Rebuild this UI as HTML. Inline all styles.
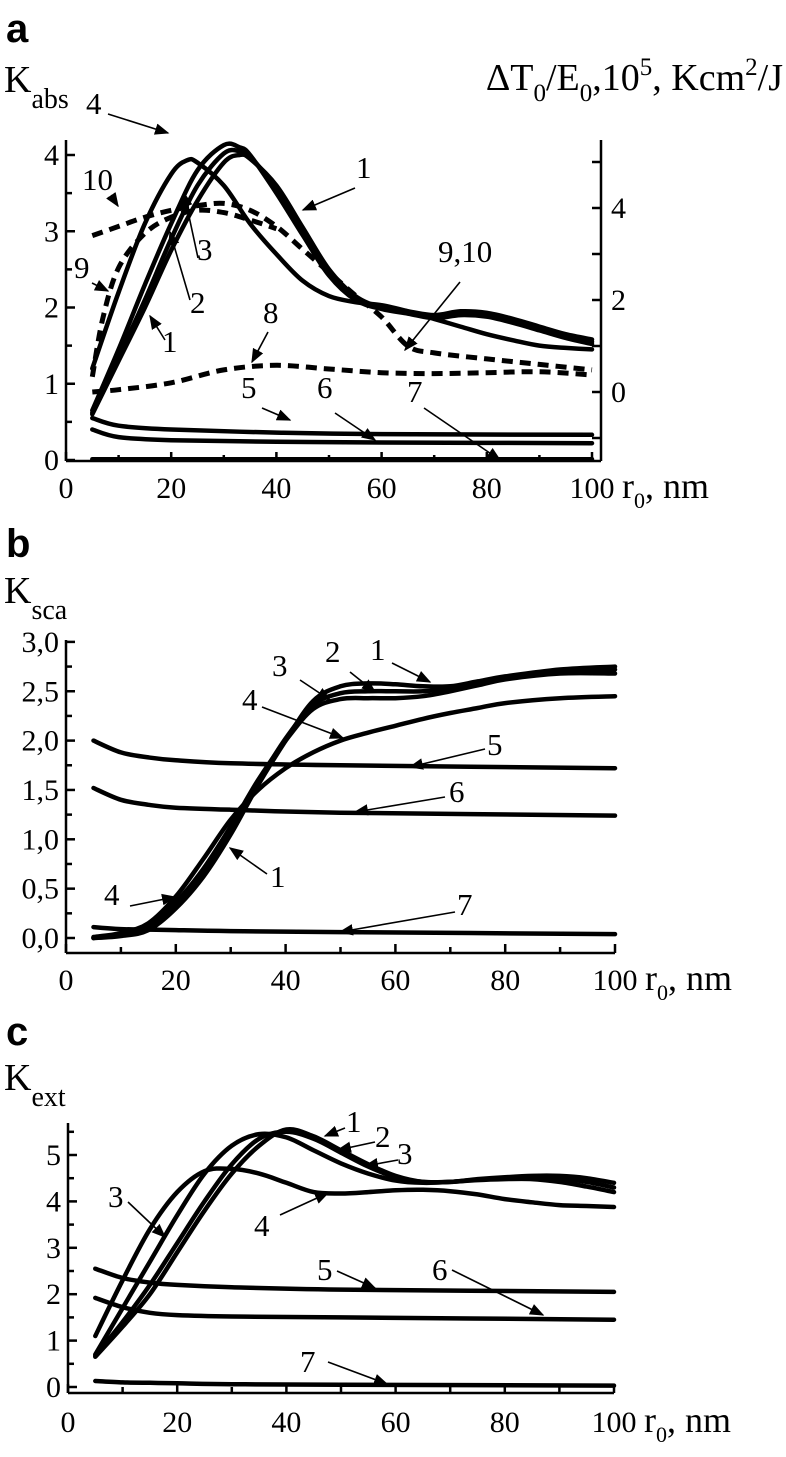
<!DOCTYPE html>
<html><head><meta charset="utf-8">
<style>
html,body{margin:0;padding:0;background:#fff;}
svg{display:block;font-family:"Liberation Serif",serif;}
.pl{font-family:"Liberation Sans",sans-serif;font-weight:bold;font-size:40px;}
.tk{font-size:30px;}
.ax{stroke:#000;stroke-width:2.5;fill:none;}
.cv{stroke:#000;stroke-width:4.5;fill:none;stroke-linecap:round;stroke-linejoin:round;}
.ds{stroke:#000;stroke-width:5;fill:none;stroke-dasharray:11 7;}
.ar{stroke:#000;stroke-width:1.6;fill:none;}
.lb{font-size:31px;}
</style></head>
<body>
<svg id="fig" width="786" height="1457" viewBox="0 0 786 1457">
<defs><marker id="ah" viewBox="0 0 10 10" refX="9" refY="5" markerWidth="9" markerHeight="9" orient="auto"><path d="M0,1 L10,5 L0,9 z" fill="#000"/></marker></defs>
<g id="gA"></g>
<g id="gB"></g>
<g id="gC"></g>
</svg>
<script>
// ---- data: panel a (Kabs, left axis) ----
const aX=[5,10,15,20,25,30,33,35,40,45,50,55,60,65,70,75,80,85,90,95,100];
const a1=[0.6,1.3,2.0,2.75,3.4,3.9,4.0,3.95,3.6,3.05,2.5,2.15,2.0,1.95,1.9,1.95,1.93,1.85,1.75,1.65,1.58];
const a2=[0.62,1.35,2.1,2.9,3.6,4.02,4.05,3.98,3.55,3.0,2.45,2.12,2.0,1.93,1.88,1.92,1.9,1.82,1.72,1.62,1.55];
const a3=[0.65,1.45,2.3,3.1,3.8,4.13,4.1,4.0,3.5,2.95,2.42,2.1,1.98,1.92,1.86,1.9,1.88,1.8,1.7,1.6,1.52];
const a4X=[5,10,15,20,23,25,30,35,40,45,50,55,60,65,70,75,80,85,90,95,100];
const a4=[1.2,2.2,3.1,3.75,3.93,3.9,3.6,3.1,2.7,2.35,2.15,2.07,2.03,1.95,1.85,1.75,1.65,1.57,1.5,1.47,1.45];
const aFlatX=[5,10,20,40,60,100];
const a5=[0.55,0.45,0.4,0.36,0.34,0.33];
const a6=[0.4,0.3,0.26,0.24,0.23,0.22];
const a7=[0.01,0.01,0.01,0.01,0.01,0.01];
// dashed curves (right axis, ΔT0/E0)
const a10X=[5,10,15,20,25,30,35,40,45,50,55,60,65,70,80,90,100];
const a10=[3.4,3.6,3.8,3.95,4.05,4.1,3.95,3.6,3.1,2.6,2.1,1.63,1.0,0.85,0.72,0.6,0.48];
const a9X=[5,7,10,15,20,25,30,35,40];
const a9=[0.33,1.6,2.7,3.45,3.8,3.95,3.9,3.74,3.55];
const a8X=[5,10,20,30,40,50,60,70,80,90,100];
const a8=[0.0,0.05,0.2,0.48,0.58,0.5,0.42,0.4,0.42,0.44,0.37];
// ---- panel b (Ksca) ----
const bX=[5,10,15,20,25,30,35,40,45,50,55,60,65,70,75,80,90,100];
const b1=[0,0.02,0.08,0.3,0.62,1.05,1.55,2.0,2.4,2.55,2.58,2.57,2.55,2.55,2.6,2.65,2.72,2.75];
const b2=[0,0.03,0.1,0.33,0.66,1.1,1.58,2.02,2.36,2.48,2.5,2.5,2.5,2.53,2.58,2.63,2.7,2.72];
const b3=[0,0.04,0.12,0.36,0.7,1.13,1.6,2.0,2.32,2.42,2.43,2.43,2.45,2.5,2.56,2.62,2.68,2.68];
const b4=[0.01,0.05,0.15,0.42,0.8,1.2,1.5,1.72,1.88,2.0,2.08,2.15,2.22,2.28,2.33,2.38,2.43,2.45];
const bFlatX=[5,10,15,20,30,50,100];
const b5=[2.0,1.88,1.83,1.8,1.77,1.75,1.72];
const b6=[1.52,1.4,1.35,1.32,1.3,1.27,1.24];
const b7=[0.11,0.09,0.085,0.08,0.07,0.06,0.04];
// ---- panel c (Kext) ----
const cX=[5,10,15,20,25,30,35,40,45,50,55,60,65,70,75,80,85,90,95,100];
const c1=[0.65,1.3,2.0,2.9,3.8,4.6,5.2,5.55,5.4,5.1,4.8,4.55,4.42,4.42,4.48,4.52,4.55,4.55,4.5,4.4];
const c2=[0.67,1.4,2.2,3.1,4.0,4.8,5.35,5.5,5.35,5.05,4.75,4.52,4.42,4.42,4.47,4.5,4.52,4.5,4.42,4.3];
const c3=[0.7,1.7,2.7,3.7,4.6,5.2,5.45,5.38,5.1,4.82,4.6,4.45,4.4,4.42,4.46,4.48,4.48,4.42,4.32,4.2];
const c4=[1.1,2.3,3.4,4.2,4.65,4.7,4.6,4.4,4.2,4.17,4.2,4.24,4.25,4.22,4.15,4.05,3.98,3.92,3.9,3.88];
const cFlatX=[5,10,15,20,30,50,100];
const c5=[2.55,2.35,2.25,2.2,2.15,2.1,2.05];
const c6=[1.92,1.72,1.6,1.55,1.52,1.5,1.45];
const c7=[0.13,0.1,0.09,0.08,0.06,0.05,0.03];

const NS="http://www.w3.org/2000/svg";
function mk(parent,tag,attrs,text){const e=document.createElementNS(NS,tag);for(const k in attrs)e.setAttribute(k,attrs[k]);if(text!==undefined)e.textContent=text;parent.appendChild(e);return e;}
function smooth(pts){let d="M"+pts[0][0].toFixed(1)+","+pts[0][1].toFixed(1);
 for(let i=0;i<pts.length-1;i++){const p0=pts[Math.max(i-1,0)],p1=pts[i],p2=pts[i+1],p3=pts[Math.min(i+2,pts.length-1)];
 const c1x=p1[0]+(p2[0]-p0[0])/6,c1y=p1[1]+(p2[1]-p0[1])/6,c2x=p2[0]-(p3[0]-p1[0])/6,c2y=p2[1]-(p3[1]-p1[1])/6;
 d+=" C"+c1x.toFixed(1)+","+c1y.toFixed(1)+" "+c2x.toFixed(1)+","+c2y.toFixed(1)+" "+p2[0].toFixed(1)+","+p2[1].toFixed(1);}
 return d;}
function curve(g,xs,ys,fx,fy,cls,name){const p=mk(g,"path",{d:smooth(xs.map((x,i)=>[fx(x),fy(ys[i])])),class:cls});
 
 }
function txt(g,x,y,s,cls,name,anchor){const t=mk(g,"text",{x:x,y:y,class:cls||"lb","text-anchor":anchor||"start"},s);
 
 return t;}
function arrow(g,x1,y1,x2,y2,name){const l=mk(g,"line",{x1:x1,y1:y1,x2:x2,y2:y2,class:"ar","marker-end":"url(#ah)"});
 
 }
function xaxis(g,fx,y0,x0,x1,ticklabY,name){
 const l=mk(g,"line",{x1:x0,y1:y0,x2:x1,y2:y0,class:"ax"});
 
 
 for(let v=0;v<=100;v+=10){const x=fx(v);mk(g,"line",{x1:x,y1:y0,x2:x,y2:y0-(v%20==0?9:6),class:"ax"});
  if(v%20==0){txt(g,x,ticklabY,String(v),"tk","x-tick-label","middle");}}
 const t=mk(g,"text",{x:fx(100)+30,y:ticklabY,"font-size":"36"});
 
 
 t.innerHTML='r<tspan dy="10" font-size="22">0</tspan><tspan dy="-10">, nm</tspan>';}
function yaxis(g,fy,x0,ytop,ybot,vmin,vmax,step,minor,labels,name,right){
 const l=mk(g,"line",{x1:x0,y1:ytop,x2:x0,y2:ybot,class:"ax"});
 
 
 const dir=right?-1:1;
 for(let v=vmin;v<=vmax+1e-9;v+=minor){const y=fy(v);const maj=Math.abs(v/step-Math.round(v/step))<1e-6;
  mk(g,"line",{x1:x0,y1:y,x2:x0+dir*(maj?9:6),y2:y,class:"ax"});}
 labels.forEach(([v,s])=>{txt(g,right?x0+10:x0-7,fy(v)+10,s,"tk","y-tick-label",right?"start":"end");});}
function sub(g,x,y,main,subs,name){const t=mk(g,"text",{x:x,y:y,"font-size":"38"});
 
 
 t.innerHTML=main+'<tspan dy="16" font-size="28">'+subs+'</tspan>';}

// ===== Panel A =====
(function(){const g=document.getElementById("gA");
 const fx=v=>66+5.26*v, fy=v=>460-76.25*v, fr=v=>392-46*v;
 txt(g,6,42,"a","pl","panel-a-letter");
 sub(g,4,92,"K","abs","y-axis-title-left");
 const t=mk(g,"text",{x:783,y:90,"font-size":"38","text-anchor":"end"});
 
 
 t.innerHTML='ΔT<tspan dy="11" font-size="25">0</tspan><tspan dy="-11">/E</tspan><tspan dy="11" font-size="25">0</tspan><tspan dy="-11">,10</tspan><tspan dy="-15" font-size="25">5</tspan><tspan dy="15">, Kcm</tspan><tspan dy="-15" font-size="25">2</tspan><tspan dy="15">/J</tspan>';
 yaxis(g,fy,66,140,461,0,4,1,0.5,[[0,"0"],[1,"1"],[2,"2"],[3,"3"],[4,"4"]],"y-axis-left");
 yaxis(g,fr,601,140,461,-1,5,1,1,[[0,"0"],[2,"2"],[4,"4"]],"y-axis-right",true);
 xaxis(g,fx,461,66,601,498,"x-axis");
 curve(g,aX,a1,fx,fy,"cv","curve-1");curve(g,aX,a2,fx,fy,"cv","curve-2");curve(g,aX,a3,fx,fy,"cv","curve-3");
 curve(g,a4X,a4,fx,fy,"cv","curve-4");
 curve(g,aFlatX,a5,fx,fy,"cv","curve-5");curve(g,aFlatX,a6,fx,fy,"cv","curve-6");curve(g,aFlatX,a7,fx,fy,"cv","curve-7");
 curve(g,a10X,a10,fx,fr,"ds","curve-10");curve(g,a9X,a9,fx,fr,"ds","curve-9");curve(g,a8X,a8,fx,fr,"ds","curve-8");
 txt(g,86,114,"4","lb","label-4");arrow(g,108,114,168,133,"arrow-4");
 txt(g,82,190,"10","lb","label-10");arrow(g,112,197,118,206,"arrow-10");
 txt(g,74,278,"9","lb","label-9");arrow(g,92,283,108,291,"arrow-9");
 txt(g,356,178,"1","lb","label-1");arrow(g,355,188,303,210,"arrow-1");
 txt(g,197,260,"3","lb","label-3");arrow(g,198,258,184,193,"line-3");
 txt(g,190,313,"2","lb","label-2");arrow(g,190,300,170,232,"line-2");
 txt(g,162,352,"1","lb","label-1b");arrow(g,165,340,150,316,"arrow-1b");
 txt(g,263,323,"8","lb","label-8");arrow(g,268,332,252,362,"arrow-8");
 txt(g,438,262,"9,10","lb","label-9-10");arrow(g,460,282,405,350,"arrow-9-10");
 txt(g,241,398,"5","lb","label-5");arrow(g,262,408,290,420,"arrow-5");
 txt(g,317,398,"6","lb","label-6");arrow(g,335,413,375,440,"arrow-6");
 txt(g,407,402,"7","lb","label-7");arrow(g,424,408,500,460,"arrow-7");
})();

// ===== Panel B =====
(function(){const g=document.getElementById("gB");
 const fx=v=>66+5.49*v, fy=v=>938-98.7*v;
 txt(g,6,557,"b","pl","panel-b-letter");
 sub(g,4,603,"K","sca","y-axis-title");
 yaxis(g,fy,66,640,953,0,3,0.5,0.25,[[0,"0,0"],[0.5,"0,5"],[1,"1,0"],[1.5,"1,5"],[2,"2,0"],[2.5,"2,5"],[3,"3,0"]],"y-axis");
 xaxis(g,fx,953,66,615,990,"x-axis");
 curve(g,bX,b1,fx,fy,"cv","curve-1");curve(g,bX,b2,fx,fy,"cv","curve-2");curve(g,bX,b3,fx,fy,"cv","curve-3");curve(g,bX,b4,fx,fy,"cv","curve-4");
 curve(g,bFlatX,b5,fx,fy,"cv","curve-5");curve(g,bFlatX,b6,fx,fy,"cv","curve-6");curve(g,bFlatX,b7,fx,fy,"cv","curve-7");
 txt(g,370,660,"1","lb","label-1");arrow(g,392,663,430,682,"arrow-1");
 txt(g,325,662,"2","lb","label-2");arrow(g,350,672,375,692,"arrow-2");
 txt(g,272,676,"3","lb","label-3");arrow(g,300,680,330,700,"arrow-3");
 txt(g,242,710,"4","lb","label-4");arrow(g,262,707,343,738,"arrow-4");
 txt(g,487,755,"5","lb","label-5");arrow(g,485,749,410,767,"arrow-5");
 txt(g,449,802,"6","lb","label-6");arrow(g,445,797,355,812,"arrow-6");
 txt(g,270,887,"1","lb","label-1b");arrow(g,267,874,230,848,"arrow-1b");
 txt(g,104,905,"4","lb","label-4b");arrow(g,130,906,175,897,"arrow-4b");
 txt(g,457,915,"7","lb","label-7");arrow(g,455,912,340,932,"arrow-7");
})();

// ===== Panel C =====
(function(){const g=document.getElementById("gC");
 const fx=v=>68+5.46*v, fy=v=>1387-46.4*v;
 txt(g,6,1045,"c","pl","panel-c-letter");
 sub(g,4,1090,"K","ext","y-axis-title");
 yaxis(g,fy,68,1123,1393,0,5.5,1,0.5,[[0,"0"],[1,"1"],[2,"2"],[3,"3"],[4,"4"],[5,"5"]],"y-axis");
 xaxis(g,fx,1393,68,614,1432,"x-axis");
 curve(g,cX,c1,fx,fy,"cv","curve-1");curve(g,cX,c2,fx,fy,"cv","curve-2");curve(g,cX,c3,fx,fy,"cv","curve-3");curve(g,cX,c4,fx,fy,"cv","curve-4");
 curve(g,cFlatX,c5,fx,fy,"cv","curve-5");curve(g,cFlatX,c6,fx,fy,"cv","curve-6");curve(g,cFlatX,c7,fx,fy,"cv","curve-7");
 txt(g,346,1132,"1","lb","label-1");arrow(g,345,1128,325,1136,"arrow-1");
 txt(g,375,1147,"2","lb","label-2");arrow(g,375,1142,338,1150,"arrow-2");
 txt(g,397,1164,"3","lb","label-3");arrow(g,398,1160,365,1166,"arrow-3");
 txt(g,108,1207,"3","lb","label-3b");arrow(g,128,1202,165,1237,"arrow-3b");
 txt(g,254,1236,"4","lb","label-4");arrow(g,280,1215,328,1193,"arrow-4");
 txt(g,317,1280,"5","lb","label-5");arrow(g,337,1271,375,1288,"arrow-5");
 txt(g,432,1280,"6","lb","label-6");arrow(g,452,1270,543,1315,"arrow-6");
 txt(g,300,1372,"7","lb","label-7");arrow(g,328,1362,387,1384,"arrow-7");
})();
</script>
</body></html>
